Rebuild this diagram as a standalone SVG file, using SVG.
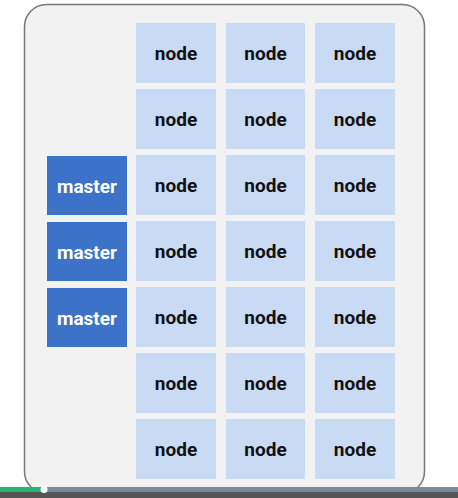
<svg xmlns="http://www.w3.org/2000/svg" width="458" height="498" viewBox="0 0 458 498">
<style>
.n rect{fill:#c9daf5;}
.m rect{fill:#3c73c8;}
text{font-family:Roboto,"Liberation Sans",sans-serif;font-weight:bold;font-size:19px;text-anchor:middle;dominant-baseline:central;}
.n text{fill:#111;}
.m text{fill:#fff;}
</style>
<rect x="0" y="0" width="458" height="498" fill="#ffffff"/>
<rect id="container" x="24.5" y="4.5" width="400" height="489" rx="22" fill="#f2f2f2" stroke="#777" stroke-width="1.5"/>
<g id="connectors"></g>
<g id="m1" class="m"><rect x="47" y="156" width="80" height="59"/><text x="87" y="186">master</text></g>
<g id="m2" class="m"><rect x="47" y="222" width="80" height="59"/><text x="87" y="252">master</text></g>
<g id="m3" class="m"><rect x="47" y="288" width="80" height="59"/><text x="87" y="318">master</text></g>
<g id="n1" class="n"><rect x="136" y="23" width="80" height="60"/><text x="176" y="53.5">node</text></g>
<g id="n2" class="n"><rect x="226" y="23" width="79" height="60"/><text x="265.5" y="53.5">node</text></g>
<g id="n3" class="n"><rect x="315" y="23" width="80" height="60"/><text x="355" y="53.5">node</text></g>
<g id="n4" class="n"><rect x="136" y="89" width="80" height="60"/><text x="176" y="119.5">node</text></g>
<g id="n5" class="n"><rect x="226" y="89" width="79" height="60"/><text x="265.5" y="119.5">node</text></g>
<g id="n6" class="n"><rect x="315" y="89" width="80" height="60"/><text x="355" y="119.5">node</text></g>
<g id="n7" class="n"><rect x="136" y="155" width="80" height="60"/><text x="176" y="185.5">node</text></g>
<g id="n8" class="n"><rect x="226" y="155" width="79" height="60"/><text x="265.5" y="185.5">node</text></g>
<g id="n9" class="n"><rect x="315" y="155" width="80" height="60"/><text x="355" y="185.5">node</text></g>
<g id="n10" class="n"><rect x="136" y="221" width="80" height="60"/><text x="176" y="251.5">node</text></g>
<g id="n11" class="n"><rect x="226" y="221" width="79" height="60"/><text x="265.5" y="251.5">node</text></g>
<g id="n12" class="n"><rect x="315" y="221" width="80" height="60"/><text x="355" y="251.5">node</text></g>
<g id="n13" class="n"><rect x="136" y="287" width="80" height="60"/><text x="176" y="317.5">node</text></g>
<g id="n14" class="n"><rect x="226" y="287" width="79" height="60"/><text x="265.5" y="317.5">node</text></g>
<g id="n15" class="n"><rect x="315" y="287" width="80" height="60"/><text x="355" y="317.5">node</text></g>
<g id="n16" class="n"><rect x="136" y="353" width="80" height="60"/><text x="176" y="383.5">node</text></g>
<g id="n17" class="n"><rect x="226" y="353" width="79" height="60"/><text x="265.5" y="383.5">node</text></g>
<g id="n18" class="n"><rect x="315" y="353" width="80" height="60"/><text x="355" y="383.5">node</text></g>
<g id="n19" class="n"><rect x="136" y="419" width="80" height="60"/><text x="176" y="449.5">node</text></g>
<g id="n20" class="n"><rect x="226" y="419" width="79" height="60"/><text x="265.5" y="449.5">node</text></g>
<g id="n21" class="n"><rect x="315" y="419" width="80" height="60"/><text x="355" y="449.5">node</text></g>
<rect x="0" y="492" width="458" height="6" fill="#555555"/>
<rect x="0" y="487" width="458" height="5" fill="#7b8c99"/>
<rect x="0" y="487" width="43" height="5" fill="#22b573"/>
<circle cx="44" cy="489.5" r="3.5" fill="#ffffff"/>
</svg>
